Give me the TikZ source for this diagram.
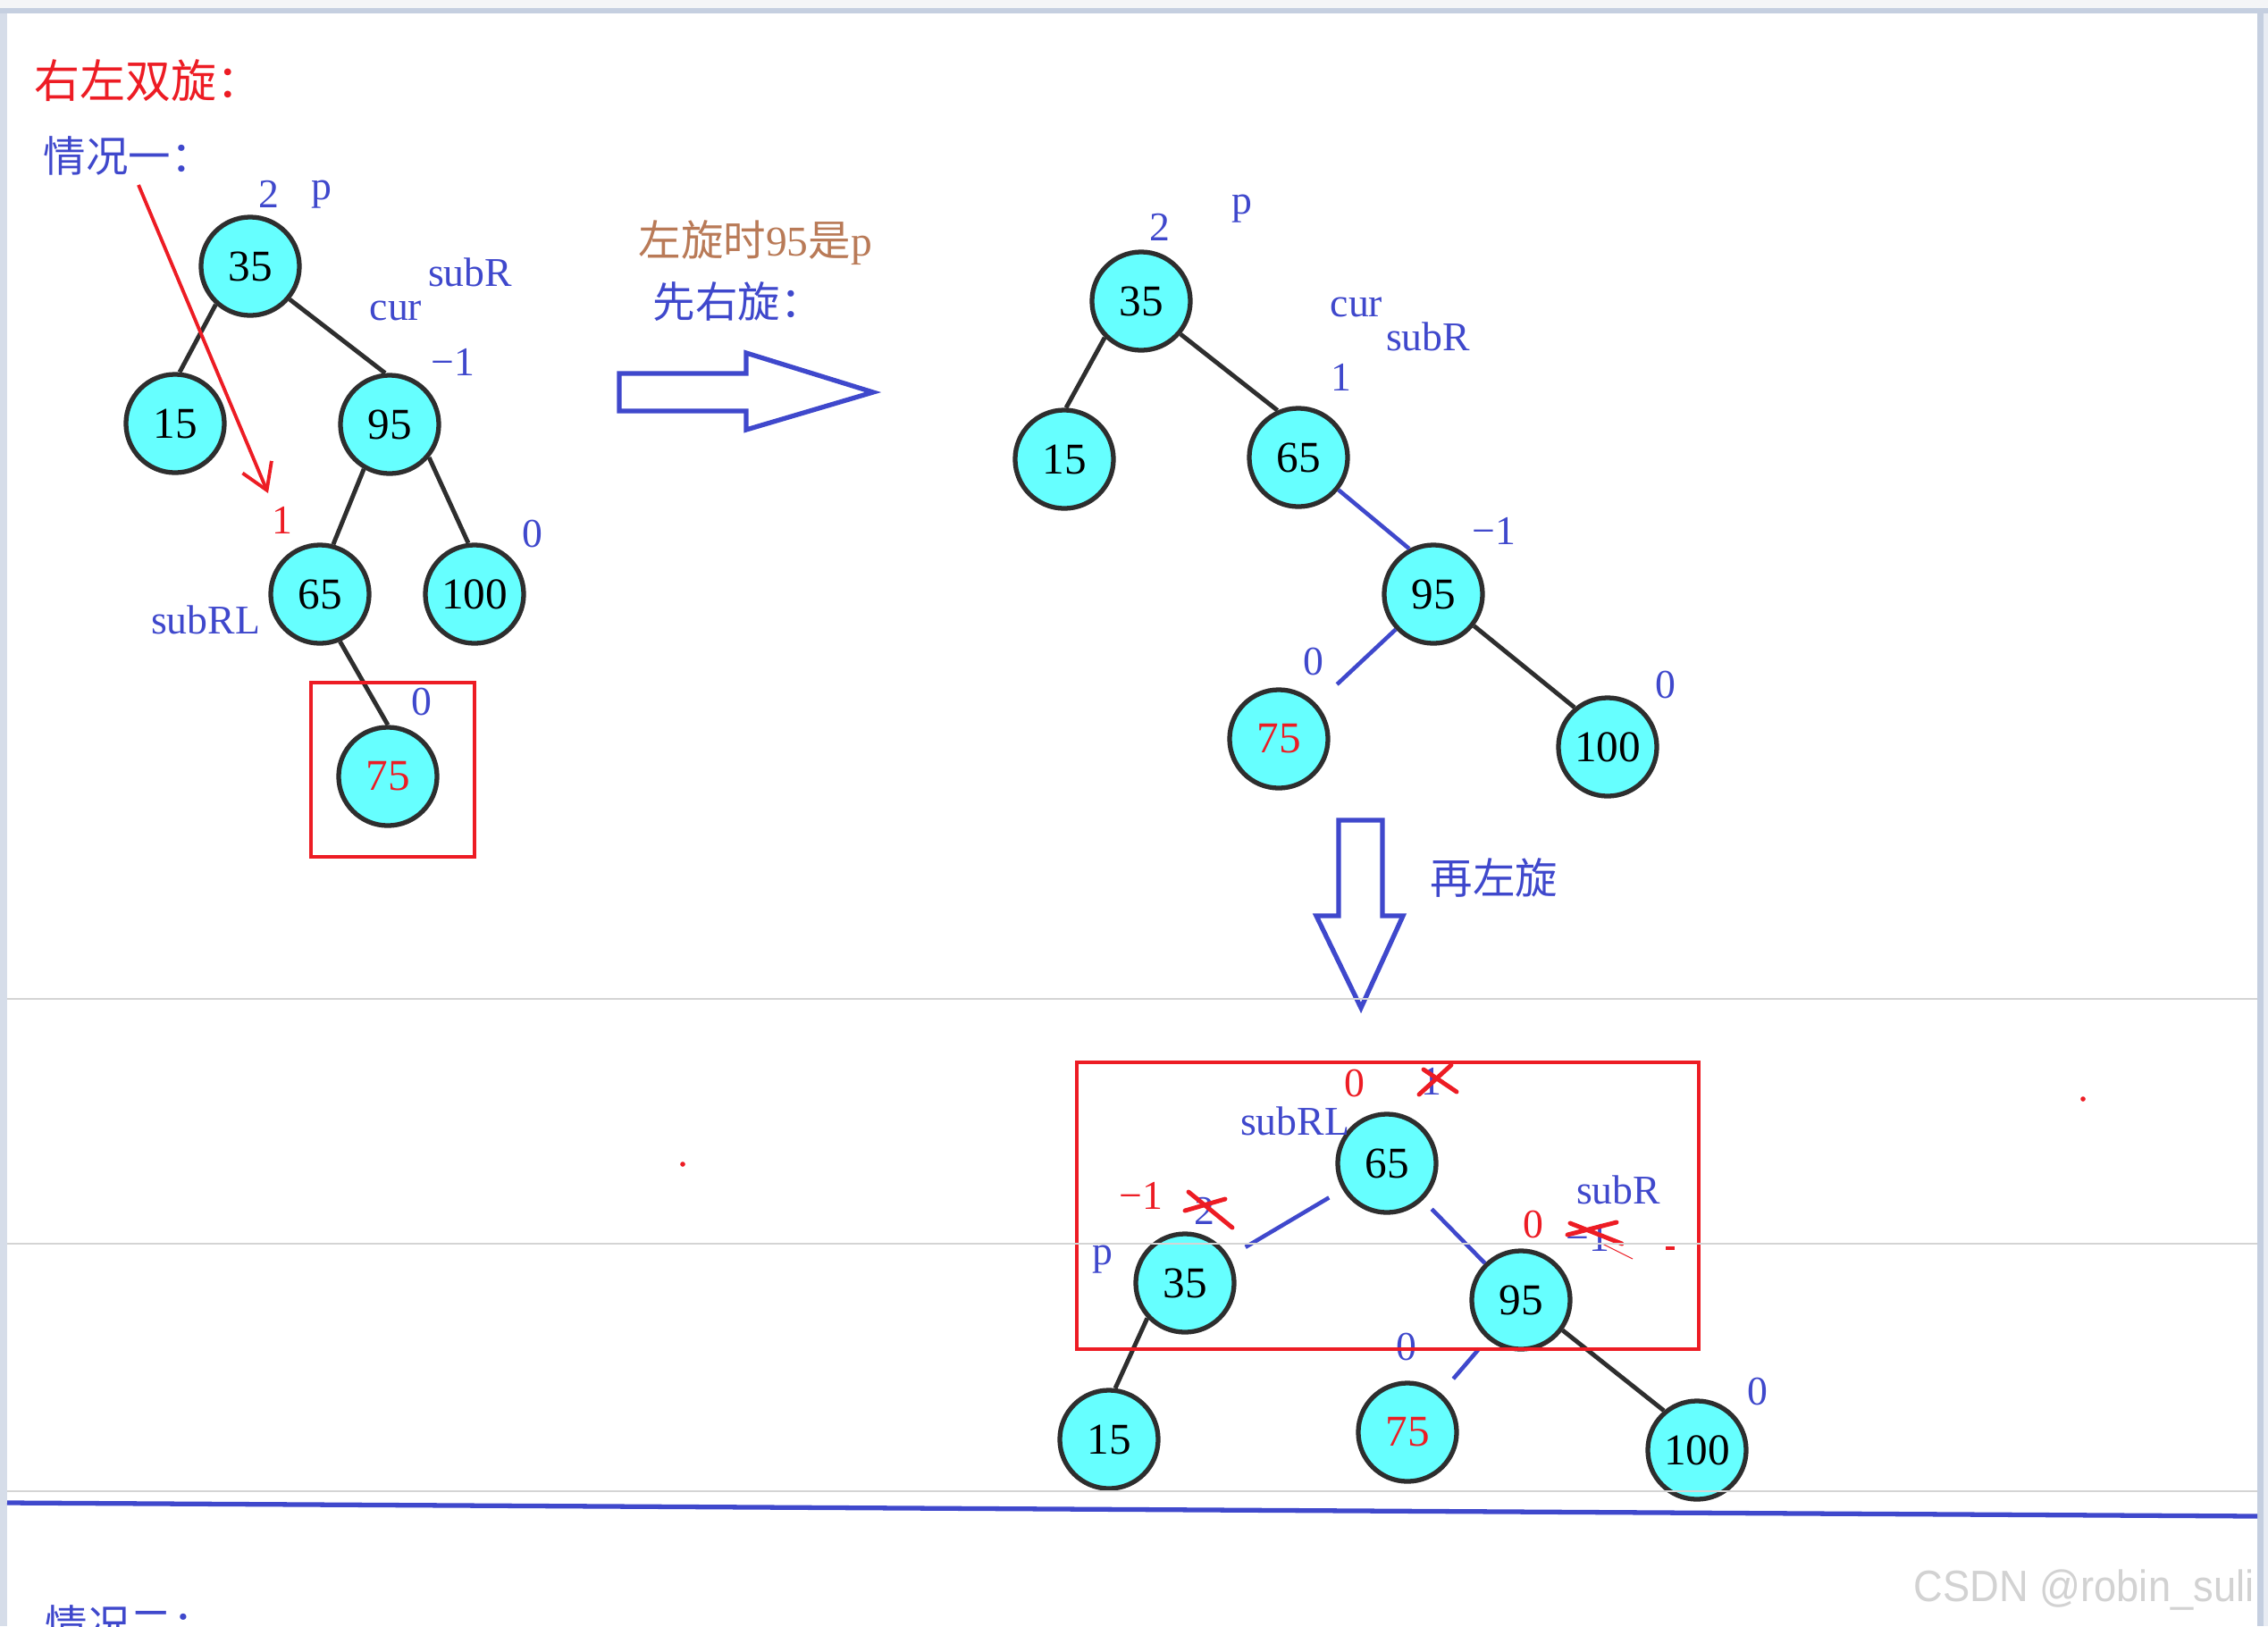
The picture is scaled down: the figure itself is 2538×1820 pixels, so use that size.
\documentclass[tikz,border=0pt]{standalone}
\usepackage{fontspec}
\setmainfont{Liberation Serif}
\newfontfamily\cjk{Noto Sans CJK SC}
\newfontfamily\wmfont{Liberation Sans}
\usepackage{xcolor}
\usepackage{tikz}
\usetikzlibrary{arrows.meta, positioning}

\definecolor{nodecyan}{HTML}{66FFFF}
\definecolor{edgegray}{HTML}{2E2E2E}
\definecolor{penblue}{HTML}{3F48CC}
\definecolor{penred}{HTML}{ED1C24}
\definecolor{penbrown}{HTML}{B97A57}
\definecolor{pagegray}{HTML}{D4D4D4}
\definecolor{framegray}{HTML}{C5CFE0}
\definecolor{barwhite}{HTML}{F4F5F7}

\begin{document}
\begin{tikzpicture}[
    x=0.01cm, y=-0.01cm,
    avl/.style={circle, draw=edgegray, line width=1.5pt, fill=nodecyan,
                minimum size=1.1cm, inner sep=0pt, font=\fontsize{14}{14}\selectfont},
    link/.style={draw=edgegray, line width=1.4pt},
    bluelink/.style={draw=penblue, line width=1.3pt},
    lab/.style={text=penblue, inner sep=0pt, font=\fontsize{13}{13}\selectfont},
    redlab/.style={lab, text=penred},
    cnlab/.style={inner sep=0pt, anchor=west, font=\cjk\fontsize{13.5}{13.5}\selectfont},
    hollow/.style={draw=penblue, line width=1.5pt, line join=miter},
    crossout/.style={draw=penred, line width=1.4pt, line cap=round},
    redbox/.style={draw=penred, line width=1.3pt},
]
\useasboundingbox (0,0) rectangle (2538,1820);
\fill[white] (0,0) rectangle (2538,1820);

% window frame
\fill[barwhite] (0,0) rectangle (2538,9);
\fill[framegray] (0,9) rectangle (2538,15);
\fill[framegray!70] (0,15) rectangle (8,1820);
\fill[framegray] (2526,15) rectangle (2533,1820);
\fill[framegray!40] (2533,15) rectangle (2538,1820);

% headings
\node[cnlab, text=penred, font=\cjk\fontsize{14.5}{14.5}\selectfont] (title) at (38,90) {右左双旋：};
\node[cnlab, text=penblue] (case1) at (48,174) {情况一：};

% first tree
\node[avl] (a35) at (280,298) {35};
\node[avl] (a15) at (196,474) {15};
\node[avl] (a95) at (436,475) {95};
\node[avl] (a65) at (358,665) {65};
\node[avl] (a100) at (531,665) {100};
\node[avl, text=penred] (a75) at (434,869) {75};
\draw[link] (a35.-132) -- (a15.85);
\draw[link] (a35.-40) -- (a95.95);
\draw[link] (a95.-120) -- (a65.75);
\draw[link] (a95.-40) -- (a100.97);
\draw[link] (a65.-67) -- (a75.90);

\node[lab] (a35bf) at (301,217) {2};
\node[lab] (a35p) at (360,218) {p};
\node[lab] (a95subr) at (526,305) {subR};
\node[lab] (a95cur) at (443,348) {cur};
\node[lab] (a95bf) at (507,405) {−1};
\node[lab] (a100bf) at (596,598) {0};
\node[redlab] (a65bf) at (316,582) {1};
\node[lab] (a65subrl) at (230,694) {subRL};
\node[lab] (a75bf) at (472,786) {0};
\draw[redbox] (348,764) rectangle (531,959);

% red pointer
\coordinate (ptail) at (155,207);
\coordinate (ptip) at (300,552);
\draw[penred, line width=1.1pt, -{Straight Barb[length=8pt, width=10pt]}] (ptail) -- (ptip);

% first step
\draw[hollow] (693,418) -- (835,418) -- (835,395) -- (977,439) -- (835,481)
    -- (835,460) -- (693,460) -- cycle;
\node[cnlab, text=penbrown] (step1a) at (714,272) {左旋时{\rmfamily 95}是{\rmfamily p}};
\node[cnlab, text=penblue] (step1b) at (730,338) {先右旋：};

% second tree
\node[avl] (b35) at (1277,337) {35};
\node[avl] (b15) at (1191,514) {15};
\node[avl] (b65) at (1453,512) {65};
\node[avl] (b95) at (1604,665) {95};
\node[avl, text=penred] (b75) at (1431,827) {75};
\node[avl] (b100) at (1799,836) {100};
\draw[link] (b35.-135) -- (b15.88);
\draw[link] (b35.-40) -- (b65.114);
\draw[bluelink] (b65.-39) -- (b95.118);
\draw[bluelink, shorten >=9pt] (b95) -- (b75);
\draw[link] (b95.-38) -- (b100.130);

\node[lab] (b35bf) at (1298,254) {2};
\node[lab] (b35p) at (1390,234) {p};
\node[lab] (b65cur) at (1518,344) {cur};
\node[lab] (b65subr) at (1598,377) {subR};
\node[lab] (b65bf) at (1501,422) {1};
\node[lab] (b95bf) at (1672,594) {−1};
\node[lab] (b75bf) at (1470,741) {0};
\node[lab] (b100bf) at (1864,767) {0};

% second step
\draw[hollow] (1498,918) -- (1547,918) -- (1547,1025) -- (1570,1025) -- (1523,1128)
    -- (1473,1025) -- (1498,1025) -- cycle;
\node[cnlab, text=penblue] (step2) at (1600,982) {再左旋};

% third tree
\node[avl] (c65) at (1552,1302) {65};
\node[avl] (c35) at (1326,1436) {35};
\node[avl] (c95) at (1702,1455) {95};
\node[avl] (c15) at (1241,1611) {15};
\node[avl, text=penred] (c75) at (1575,1603) {75};
\node[avl] (c100) at (1899,1623) {100};
\draw[bluelink, shorten <=5pt, shorten >=6pt] (c65) -- (c35);
\draw[bluelink, shorten <=4pt] (c65) -- (c95);
\draw[link] (c35.-137) -- (c15.83);
\draw[bluelink, shorten <=4pt, shorten >=6pt] (c95) -- (c75);
\draw[link] (c95.-36) -- (c100.130);

\node[redlab] (c65bf) at (1516,1213) {0};
\node[lab] (c65old) at (1602,1210) {1};
\node[lab] (c65subrl) at (1449,1255) {subRL};
\node[redlab] (c35bf) at (1277,1338) {−1};
\node[lab] (c35old) at (1348,1355) {2};
\node[lab] (c35p) at (1234,1410) {p};
\node[lab] (c95subr) at (1811,1332) {subR};
\node[redlab] (c95bf) at (1716,1371) {0};
\node[lab] (c95old) at (1777,1385) {−1};
\node[lab] (c75bf) at (1574,1507) {0};
\node[lab] (c100bf) at (1967,1557) {0};

% crossed-out factors
\draw[crossout] (1588,1225) -- (1624,1192);
\draw[crossout] (1593,1197) -- (1630,1222);
\draw[crossout] (1326,1355) -- (1371,1342);
\draw[crossout] (1330,1334) -- (1379,1374);
\draw[crossout] (1754,1382) -- (1809,1368);
\draw[crossout] (1757,1369) -- (1815,1392);
\draw[penred, line width=0.3pt] (1791,1391) -- (1827,1409);
\draw[penred, line width=1.3pt] (1864,1397) -- (1874,1397);
\fill[penred] (764,1303) circle[radius=0.8pt];
\fill[penred] (2331,1230) circle[radius=0.8pt];
\draw[redbox] (1205,1189) rectangle (1901,1510);

% page breaks and rule
\foreach \yy in {1118,1392,1669}
    \draw[pagegray, line width=0.5pt] (8,\yy) -- (2526,\yy);
\draw[penblue, line width=1.5pt] (8,1682) -- (2526,1697);

\node[cnlab, text=penblue, anchor=base west] (case2) at (50,1836) {情况二：};
\node[anchor=west, inner sep=0pt, xscale=0.92, text=gray!35,
      font=\wmfont\fontsize{14}{14}\selectfont] (mark) at (2141,1780) {CSDN @robin\_suli};

\end{tikzpicture}
\end{document}
